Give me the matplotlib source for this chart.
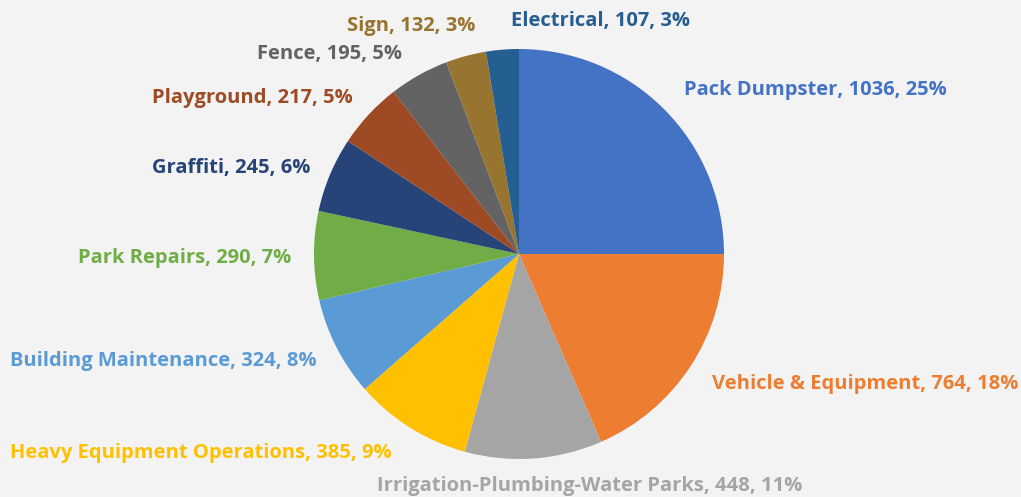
import matplotlib.pyplot as plt

categories = [
    "Pack Dumpster", "Vehicle & Equipment", "Irrigation-Plumbing-Water Parks",
    "Heavy Equipment Operations", "Building Maintenance", "Park Repairs",
    "Graffiti", "Playground", "Fence", "Sign", "Electrical",
]
counts = [1036, 764, 448, 385, 324, 290, 245, 217, 195, 132, 107]
percents = [25, 18, 11, 9, 8, 7, 6, 5, 5, 3, 3]
colors = [
    "#4472C4", "#ED7D31", "#A5A5A5", "#FFC000", "#5B9BD5", "#70AD47",
    "#264478", "#9E4A24", "#636363", "#977530", "#255E91",
]

# label anchor (left x, centre y) in pixels from top-left
label_pos = [
    (684, 90), (712, 384), (377, 486), (10, 453), (10, 361), (78, 258),
    (152, 168), (152, 98), (257, 54), (347, 26), (511, 21),
]

W, H = 1021, 497
bg = "#F3F3F3"

fig = plt.figure(figsize=(W / 100, H / 100), dpi=100, facecolor=bg)
ax = fig.add_axes([0, 0, 1, 1])
ax.set_facecolor(bg)

ax.pie(
    counts,
    colors=colors,
    startangle=90,
    counterclock=False,
    center=(519, H - 254),
    radius=205,
    frame=True,
    wedgeprops={"linewidth": 0},
)
ax.set_xlim(0, W)
ax.set_ylim(0, H)
ax.axis("off")

for name, n, p, c, (x, y) in zip(categories, counts, percents, colors, label_pos):
    ax.text(x, H - y, f"{name}, {n}, {p}%", color=c, fontsize=14.5,
            fontweight="bold", family="Open Sans", ha="left", va="center")

fig.savefig("out.png", dpi=100, facecolor=bg)
